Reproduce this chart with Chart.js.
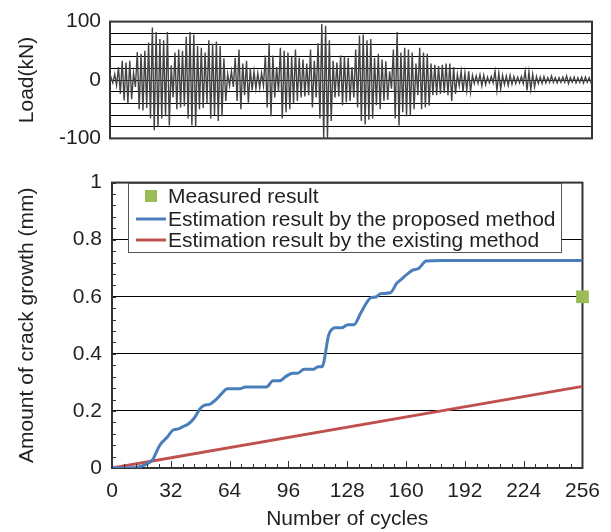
<!DOCTYPE html>
<html>
<head>
<meta charset="utf-8">
<script src="https://cdn.jsdelivr.net/npm/chart.js@4.4.1/dist/chart.umd.min.js"></script>
<style>
  html, body { margin: 0; padding: 0; background: #fff; }
  #wrap { position: relative; width: 611px; height: 532px; }
  #loadChart { position: absolute; left: 0; top: 0; }
  #crackChart { position: absolute; left: 0; top: 160px; }
</style>
</head>
<body>
<div id="wrap">
  <canvas id="loadChart" width="611" height="160"></canvas>
  <canvas id="crackChart" width="611" height="372"></canvas>
</div>
<script>
// load history, one peak and one trough per block
const loadPeaks = [5, 10, 22, 33, 30, 33, 12, 48, 45, 50, 64, 90, 82, 70, 68, 82, 25, 47, 52, 50,
  74, 82, 78, 58, 55, 47, 68, 62, 66, 58, 37, 10, 15, 38, 52, 28, 33, 20, 15, 12,
  12, 42, 63, 42, 22, 55, 50, 47, 40, 52, 38, 35, 28, 52, 33, 63, 96, 93, 68, 33,
  30, 42, 40, 38, 22, 52, 76, 78, 68, 70, 38, 45, 35, 32, 15, 52, 82, 47, 55, 52,
  47, 28, 55, 47, 45, 28, 26, 24, 26, 28, 28, 22, 10, 15, 12, 15, 8, 7, 9, 8,
  5, 6, 15, 12, 8, 7, 8, 6, 5, 6, 15, 14, 10, 6, 5, 6, 4, 7, 4, 4,
  5, 7, 4, 5, 4, 5, 5, 4];
const loadTroughs = [-5, -9, -24, -35, -40, -33, -12, -50, -52, -48, -66, -86, -80, -66, -62, -78, -30, -50, -47, -45,
  -66, -78, -80, -50, -48, -40, -66, -60, -70, -62, -36, -10, -12, -36, -50, -26, -39, -18, -15, -14,
  -10, -47, -62, -30, -20, -66, -55, -50, -40, -36, -30, -28, -26, -47, -30, -66, -100, -100, -70, -30,
  -28, -43, -38, -36, -30, -47, -70, -76, -68, -66, -43, -50, -36, -34, -15, -66, -78, -55, -62, -60,
  -50, -26, -50, -47, -44, -26, -26, -24, -22, -26, -36, -24, -10, -20, -18, -20, -6, -6, -10, -8,
  -5, -5, -18, -15, -8, -9, -7, -6, -5, -6, -18, -16, -12, -6, -6, -5, -4, -4, -5, -4,
  -4, -6, -4, -5, -4, -5, -4, -5];
const loadTicks = [-100, -80, -60, -40, -20, 0, 20, 40, 60, 80, 100];
const loadLabels = [-100, 0, 100];

// crack growth
const cycleTicks = [0, 32, 64, 96, 128, 160, 192, 224, 256];
const crackTicks = [0, 0.2, 0.4, 0.6, 0.8, 1];
const proposedX = [0, 13.1, 18.5, 22, 23.4, 25.9, 30, 33.5, 36.2, 38.9, 41.5, 45, 47.7, 50.4, 53, 56.6, 59.3, 62.8, 69.9, 72.5,
  84.1, 87.6, 91.2, 94.7, 98.3, 101, 104.5, 109.8, 112.1, 114.3, 115.3, 117.8, 119.9, 121.3, 124.9, 128.4, 131.6, 135.5, 139.1, 140.9,
  143.5, 146.2, 151.5, 155, 156.8, 161.3, 163.9, 166.6, 171, 179.9, 256];
const proposedY = [0, 0.002, 0.013, 0.028, 0.045, 0.079, 0.108, 0.134, 0.137, 0.146, 0.154, 0.177, 0.206, 0.220, 0.223, 0.240, 0.258, 0.278, 0.278, 0.284,
  0.284, 0.306, 0.306, 0.321, 0.332, 0.332, 0.346, 0.346, 0.355, 0.355, 0.372, 0.464, 0.487, 0.491, 0.491, 0.502, 0.502, 0.545, 0.585, 0.597,
  0.599, 0.611, 0.614, 0.648, 0.658, 0.683, 0.694, 0.698, 0.725, 0.727, 0.727];
const existingX = [0, 256];
const existingY = [0, 0.286];
const measuredX = [256];
const measuredY = [0.6];

Chart.defaults.font.family = '"Liberation Sans", Arial, sans-serif';
Chart.defaults.font.size = 21;
Chart.defaults.color = '#231f20';

// box round the plot area
const frame = {
  id: 'frame',
  beforeDatasetsDraw(chart) {
    const a = chart.chartArea;
    const ctx = chart.ctx;
    ctx.save();
    ctx.strokeStyle = '#333';
    ctx.lineWidth = 2;
    ctx.strokeRect(a.left, a.top, a.right - a.left, a.bottom - a.top);
    ctx.restore();
  }
};

// small tick marks pointing into the plot
const innerTicks = {
  id: 'innerTicks',
  afterDatasetsDraw(chart) {
    const {ctx, chartArea: a, scales: {x, y}} = chart;
    ctx.save();
    ctx.strokeStyle = '#333';
    ctx.lineWidth = 1;
    ctx.beginPath();
    for (let k = 0; k <= 40; k++) {
      const px = Math.round(x.getPixelForValue(k * 6.4)) + 0.5;
      const len = k % 5 === 0 ? 7 : 4;
      ctx.moveTo(px, a.bottom);
      ctx.lineTo(px, a.bottom - len);
    }
    for (let k = 0; k <= 25; k++) {
      const py = Math.round(y.getPixelForValue(k * 0.04)) + 0.5;
      ctx.moveTo(a.left, py);
      ctx.lineTo(a.left + 4, py);
    }
    ctx.stroke();
    ctx.restore();
  }
};

// legend box inside the plot (canvas coords)
const boxLegend = {
  id: 'boxLegend',
  afterDraw(chart) {
    const ctx = chart.ctx;
    const left = 128, top = 23, w = 433, h = 69;
    ctx.save();
    ctx.fillStyle = '#fff';
    ctx.fillRect(left, top, w, h);
    ctx.strokeStyle = '#555';
    ctx.lineWidth = 1;
    ctx.strokeRect(left + 0.5, top + 0.5, w, h);
    ctx.font = '21px "Liberation Sans", Arial, sans-serif';
    ctx.textBaseline = 'middle';
    const rows = [13, 36, 57];
    chart.data.datasets.forEach((ds, i) => {
      const cy = top + rows[i];
      if (ds.showLine === false) {
        ctx.fillStyle = ds.backgroundColor;
        ctx.fillRect(145, cy - 6, 12, 12);
      } else {
        ctx.strokeStyle = ds.borderColor;
        ctx.lineWidth = 3;
        ctx.beginPath();
        ctx.moveTo(136, cy);
        ctx.lineTo(166, cy);
        ctx.stroke();
      }
      ctx.fillStyle = '#231f20';
      ctx.fillText(ds.label, 168, cy + 1);
    });
    ctx.restore();
  }
};

const loadPoints = [{x: 0, y: 0}];
loadPeaks.forEach((p, i) => {
  loadPoints.push({x: 2 * i + 0.5, y: p});
  loadPoints.push({x: 2 * i + 1.5, y: loadTroughs[i]});
});
loadPoints.push({x: 256, y: 0});

new Chart(document.getElementById('loadChart'), {
  type: 'line',
  data: {
    datasets: [{
      data: loadPoints,
      borderColor: '#444',
      borderWidth: 1.4,
      pointRadius: 0,
      tension: 0
    }]
  },
  options: {
    responsive: false,
    animation: false,
    devicePixelRatio: 1,
    layout: { padding: { top: 19, right: 19, bottom: 13, left: 0 } },
    plugins: { legend: { display: false }, tooltip: { enabled: false } },
    scales: {
      x: { type: 'linear', min: 0, max: 256, display: false },
      y: {
        min: -100, max: 100,
        afterFit: s => { s.width = 110; },
        afterBuildTicks: s => { s.ticks = loadTicks.map(v => ({value: v})); },
        ticks: {
          autoSkip: false,
          padding: 9,
          callback: v => loadLabels.includes(v) ? String(v) : ''
        },
        grid: { color: '#000', lineWidth: 1, drawTicks: false },
        border: { display: false },
        title: { display: true, text: 'Load(kN)', padding: { top: 15, bottom: 0 } }
      }
    }
  },
  plugins: [frame]
});

new Chart(document.getElementById('crackChart'), {
  type: 'line',
  data: {
    datasets: [
      {
        label: 'Measured result',
        data: measuredX.map((x, i) => ({x: x, y: measuredY[i]})),
        showLine: false,
        pointStyle: 'rect',
        pointRadius: 9,
        borderWidth: 0,
        backgroundColor: '#9bbb59',
        clip: false
      },
      {
        label: 'Estimation result by the proposed method',
        data: proposedX.map((x, i) => ({x: x, y: proposedY[i]})),
        borderColor: '#4a7ebb',
        borderWidth: 3,
        pointRadius: 0,
        cubicInterpolationMode: 'monotone'
      },
      {
        label: 'Estimation result by the existing method',
        data: existingX.map((x, i) => ({x: x, y: existingY[i]})),
        borderColor: '#c0504d',
        borderWidth: 3,
        pointRadius: 0
      }
    ]
  },
  options: {
    responsive: false,
    animation: false,
    devicePixelRatio: 1,
    layout: { padding: { top: 18, right: 18, bottom: 0, left: 0 } },
    plugins: { legend: { display: false }, tooltip: { enabled: false } },
    scales: {
      x: {
        type: 'linear', min: 0, max: 256,
        afterFit: s => { s.height = 64; },
        afterBuildTicks: s => { s.ticks = cycleTicks.map(v => ({value: v})); },
        ticks: { padding: 11, maxRotation: 0, autoSkip: false },
        grid: { display: false, drawTicks: false },
        border: { display: false },
        title: { display: true, text: 'Number of cycles', padding: { top: 0, bottom: 0 } }
      },
      y: {
        min: 0, max: 1,
        afterFit: s => { s.width = 112; },
        afterBuildTicks: s => { s.ticks = crackTicks.map(v => ({value: v})); },
        ticks: { autoSkip: false, padding: 10, callback: v => String(+v.toFixed(1)) },
        grid: { color: '#000', lineWidth: 1, drawTicks: false },
        border: { display: false },
        title: { display: true, text: 'Amount of crack growth (mm)', padding: { top: 15, bottom: 0 } }
      }
    }
  },
  plugins: [frame, innerTicks, boxLegend]
});
</script>
</body>
</html>
